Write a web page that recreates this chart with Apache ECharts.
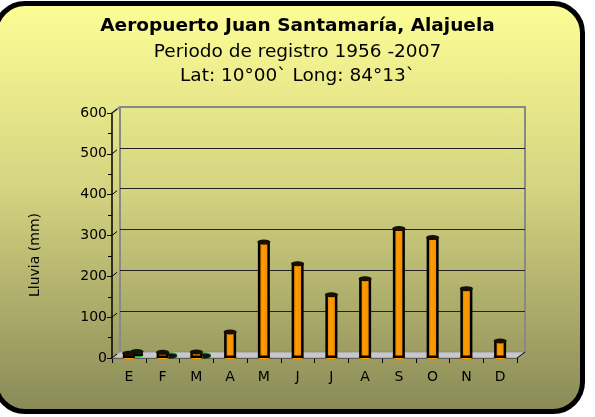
<!DOCTYPE html>
<html>
<head>
<meta charset="utf-8">
<script src="https://cdn.jsdelivr.net/npm/echarts@6/dist/echarts.min.js"></script>
<style>
  html, body { margin: 0; padding: 0; background: #fff; }
  #wrap { position: relative; width: 595px; height: 417px; overflow: hidden; }
  #panel {
    position: absolute; left: -7px; top: 1px; width: 592px; height: 413px;
    box-sizing: border-box; border: 5px solid #000; border-radius: 32px;
    background: linear-gradient(to bottom, #fdfd96 0%, #d4d481 45%, #8a8a58 100%);
  }
  #main { position: absolute; left: 0; top: 0; width: 595px; height: 417px; }
</style>
</head>
<body>
<div id="wrap">
  <div id="panel"></div>
  <div id="main"></div>
</div>
<script>
var months = ['E', 'F', 'M', 'A', 'M', 'J', 'J', 'A', 'S', 'O', 'N', 'D'];
var lluvia = [13, 15, 16, 65, 285, 232, 156, 195, 318, 296, 171, 43];
var segunda = [12, 1, 1, null, null, null, null, null, null, null, null, null];
var yTicks = [0, 100, 200, 300, 400, 500, 600];

var chartDom = document.getElementById('main');
var myChart = echarts.init(chartDom, null, { renderer: 'canvas' });
var option;

var font = 'DejaVu Sans';

function cylinder(c1, c2, c3) {
    return new echarts.graphic.LinearGradient(0, 0, 1, 0, [
        { offset: 0, color: c1 },
        { offset: 0.4, color: c2 },
        { offset: 1, color: c3 }
    ]);
}

option = {
    animation: false,
    title: [
        {
            text: 'Aeropuerto Juan Santamaría, Alajuela',
            left: 'center', top: 12,
            textStyle: { fontFamily: font, fontWeight: 'bold', fontSize: 18.5, color: '#000' }
        },
        {
            text: 'Periodo de registro 1956 -2007',
            left: 'center', top: 38,
            textStyle: { fontFamily: font, fontWeight: 'normal', fontSize: 18.5, color: '#000' }
        },
        {
            text: 'Lat: 10°00` Long: 84°13`',
            left: 'center', top: 62,
            textStyle: { fontFamily: font, fontWeight: 'normal', fontSize: 18.5, color: '#000' }
        }
    ],
    grid: [
        { left: 112, top: 113, width: 405, height: 245 },
        { left: 120, top: 107, width: 405, height: 245, show: true, borderColor: '#888', borderWidth: 2 },
        { left: 120, top: 111, width: 405, height: 245 }
    ],
    xAxis: [
        {
            type: 'category', gridIndex: 0, data: months,
            axisLine: { lineStyle: { color: '#000', width: 1.5 } },
            axisTick: { show: true, length: 5, interval: 0, lineStyle: { color: '#000' } },
            axisLabel: { fontFamily: font, fontSize: 14, color: '#000', margin: 12, interval: 0 }
        },
        { type: 'category', gridIndex: 1, data: months, show: false },
        { type: 'category', gridIndex: 2, data: months, show: false }
    ],
    yAxis: [
        {
            type: 'value', gridIndex: 0, min: 0, max: 600, interval: 100,
            axisLine: { show: true, lineStyle: { color: '#000', width: 1.5 } },
            axisTick: { show: true, length: 5, lineStyle: { color: '#000' } },
            minorTick: { show: true, splitNumber: 2, length: 4, lineStyle: { color: '#000' } },
            axisLabel: { fontFamily: font, fontSize: 14, color: '#000', margin: 5 },
            splitLine: { show: false }
        },
        {
            type: 'value', gridIndex: 1, min: 0, max: 600, interval: 100,
            axisLine: { show: false }, axisTick: { show: false }, axisLabel: { show: false },
            splitLine: { show: true, showMinLine: false, showMaxLine: false, lineStyle: { color: '#222', width: 1 } }
        },
        { type: 'value', gridIndex: 2, min: 0, max: 600, show: false, splitLine: { show: false } }
    ],
    series: [
        {
            name: 'Serie 2', type: 'bar', xAxisIndex: 2, yAxisIndex: 2,
            data: segunda, barWidth: 12, z: 3,
            itemStyle: { color: cylinder('#007a00', '#19b219', '#008a00'), borderColor: '#000', borderWidth: 2 }
        },
        {
            type: 'pictorialBar', xAxisIndex: 2, yAxisIndex: 2, data: segunda,
            symbol: 'circle', symbolSize: [13, 5], symbolPosition: 'end', symbolOffset: [0, '-50%'], z: 4,
            itemStyle: { color: '#0a1a0a', borderColor: '#000', borderWidth: 1 }
        },
        {
            type: 'pictorialBar', xAxisIndex: 2, yAxisIndex: 2, data: segunda,
            symbol: 'circle', symbolSize: [13, 5], symbolPosition: 'start', symbolOffset: [0, '40%'], z: 2,
            itemStyle: { color: '#19b219', borderColor: '#000', borderWidth: 2 }
        },
        {
            name: 'Lluvia', type: 'bar', xAxisIndex: 0, yAxisIndex: 0,
            data: lluvia, barWidth: 12, z: 6,
            itemStyle: { color: cylinder('#c46c00', '#ff9c00', '#e88800'), borderColor: '#000', borderWidth: 2.5 }
        },
        {
            type: 'pictorialBar', xAxisIndex: 0, yAxisIndex: 0, data: lluvia,
            symbol: 'circle', symbolSize: [13, 5], symbolPosition: 'end', symbolOffset: [0, '-50%'], z: 7,
            itemStyle: { color: '#1a1000', borderColor: '#000', borderWidth: 1.5 }
        },
        {
            type: 'pictorialBar', xAxisIndex: 0, yAxisIndex: 0, data: lluvia,
            symbol: 'circle', symbolSize: [13, 5], symbolPosition: 'start', symbolOffset: [0, '40%'], z: 5,
            itemStyle: { color: '#ff9c00', borderColor: '#000', borderWidth: 2 }
        }
    ]
};

myChart.setOption(option);

// 3D frame: floor, corner joints and tick diagonals, placed from the axes
var g = [];
var dx = 8, dy = -6;
var x0 = 112, x1 = 517;
var yb = myChart.convertToPixel({ yAxisIndex: 0 }, 0);
var yt = myChart.convertToPixel({ yAxisIndex: 0 }, 600);
g.push({
    type: 'polygon', z: 1,
    shape: { points: [[x0, yb], [x1, yb], [x1 + dx, yb + dy], [x0 + dx, yb + dy]] },
    style: { fill: '#c8c8c8', stroke: '#999', lineWidth: 1 }
});
g.push({ type: 'line', z: 1, shape: { x1: x0, y1: yt, x2: x0 + dx, y2: yt + dy }, style: { stroke: '#888', lineWidth: 2 } });
yTicks.forEach(function (v) {
    var y = myChart.convertToPixel({ yAxisIndex: 0 }, v);
    g.push({ type: 'line', z: 8, shape: { x1: x0, y1: y, x2: x0 + 5, y2: y - 4 }, style: { stroke: '#000', lineWidth: 1 } });
});
g.push({ type: 'line', z: 8, shape: { x1: x1, y1: yb, x2: x1 + dx, y2: yb + dy }, style: { stroke: '#000', lineWidth: 1 } });
g.push({
    type: 'text', x: 35, y: 255, rotation: Math.PI / 2, z: 8,
    style: { text: 'Lluvia (mm)', font: '14px "DejaVu Sans"', fill: '#000', align: 'center', verticalAlign: 'middle' }
});
myChart.setOption({ graphic: g });
</script>
</body>
</html>
